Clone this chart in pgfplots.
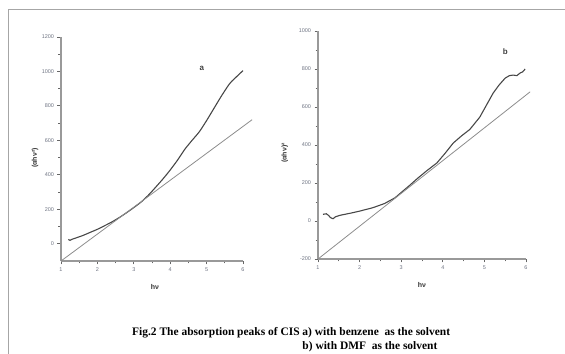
\documentclass[border=0pt]{standalone}
\usepackage{fontspec}
\setmainfont{Liberation Serif}
\newfontfamily\sansf{Liberation Sans}
\usepackage{pgfplots}
\pgfplotsset{compat=1.18}
\definecolor{axgray}{gray}{0.6}
\definecolor{tickgray}{gray}{0.4}
\definecolor{curvecol}{gray}{0.28}
\definecolor{linecol}{gray}{0.55}
\definecolor{tickcol}{RGB}{110,115,130}
\pgfplotsset{
  myax/.style={
    scale only axis,
    axis x line*=bottom,
    axis y line*=left,
    x axis line style={-, draw=axgray, line width=1.8pt},
    y axis line style={-, draw=axgray, line width=1.8pt},
    tick align=outside,
    major tick length=3.5bp,
    minor tick length=2.5bp,
    xtick style={draw=tickgray, line width=0.9pt},
    ytick style={draw=tickgray, line width=0.9pt},
    tick label style={font=\sansf\fontsize{5.5}{5.5}\selectfont, text=tickcol},
    /pgf/number format/assume math mode=true,
    /pgf/number format/set thousands separator={},
    xmin=1, xmax=6,
    xtick={1,2,3,4,5,6},
    minor x tick num=1,
    minor y tick num=1,
    clip=false,
    label style={font=\sansf\bfseries\fontsize{7}{7}\selectfont, text=black!80},
  }
}
\begin{document}
\begin{tikzpicture}
\useasboundingbox (0,0) rectangle (565bp,354bp);
\draw[gray!70, line width=1pt] (8bp,0) -- (8bp,344bp) -- (565bp,344bp);
% ---- panel a
\begin{axis}[myax,
  at={(61bp,93bp)}, anchor=south west,
  width=182bp, height=224bp,
  ymin=-100, ymax=1200,
  ytick={0,200,400,600,800,1000,1200},
  ylabel={(αhν²)},
  ylabel style={at={(axis description cs:-0.143,0.46)}, anchor=center, rotate=0},
  xlabel={hν},
  xlabel style={at={(axis description cs:0.516,-0.116)}, anchor=center},
]
\addplot[curvecol, line width=1.1pt, smooth, tension=0.4] coordinates {
(1.2,25) (1.25,20) (1.3,26) (1.4,33) (1.6,48) (1.8,66) (2.0,84) (2.2,105)
(2.4,127) (2.6,152) (2.8,180) (3.0,210) (3.2,242) (3.4,282) (3.6,328)
(3.8,376) (4.0,428) (4.2,485) (4.4,548) (4.6,600) (4.8,650) (5.0,715)
(5.2,785) (5.4,855) (5.6,920) (5.7,945) (5.8,965) (5.9,985) (6.0,1005)
};
\addplot[linecol, line width=0.8pt] coordinates {(1,-100) (6.25,720)};
\node[font=\sansf\bfseries\fontsize{8}{8}\selectfont, text=black!75] at (axis cs:4.87,1020) {a};
\end{axis}
% ---- panel b
\begin{axis}[myax,
  at={(318bp,95bp)}, anchor=south west,
  width=208bp, height=228bp,
  ymin=-200, ymax=1000,
  ytick={-200,0,200,400,600,800,1000},
  ylabel={(αhν)²},
  ylabel style={at={(axis description cs:-0.159,0.465)}, anchor=center},
  xlabel={hν},
  xlabel style={at={(axis description cs:0.5,-0.114)}, anchor=center},
]
\addplot[curvecol, line width=1.1pt] coordinates {
(1.12,35) (1.2,38) (1.25,30) (1.3,18) (1.36,12) (1.42,22) (1.53,30)
(1.8,42) (2.0,52) (2.32,70) (2.6,92) (2.85,122) (3.0,150) (3.2,187)
(3.38,222) (3.6,262) (3.86,306) (4.05,355) (4.25,410) (4.45,448)
(4.65,482) (4.89,547) (5.05,610) (5.21,673) (5.35,715) (5.5,752)
(5.6,765) (5.69,768) (5.78,765) (5.86,779) (5.92,785) (5.98,800)
};
\addplot[linecol, line width=0.8pt] coordinates {(1,-200) (6.1,680)};
\node[font=\sansf\bfseries\fontsize{8}{8}\selectfont, text=black!75] at (axis cs:5.5,889) {b};
\end{axis}
% ---- caption
\node[anchor=base west, inner sep=0, font=\bfseries\fontsize{11.5}{11.5}\selectfont] at (132bp,19bp) {Fig.2 The absorption peaks of CIS a) with benzene\ \ as the solvent};
\node[anchor=base west, inner sep=0, font=\bfseries\fontsize{11.5}{11.5}\selectfont] at (132bp,5bp) {\phantom{Fig.2 The absorption peaks of CIS }b) with DMF\ \ as the solvent};
\end{tikzpicture}
\end{document}
